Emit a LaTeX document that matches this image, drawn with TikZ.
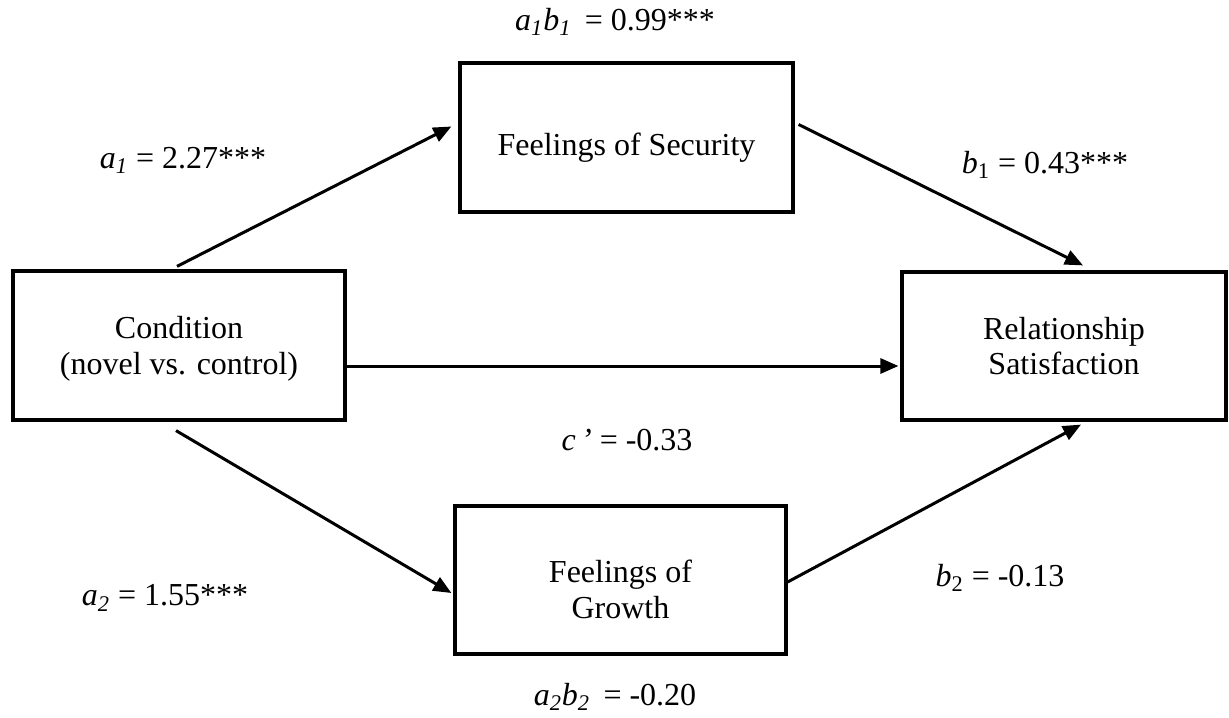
\documentclass[tikz,border=0pt]{standalone}
\usepackage{fontspec}
\setmainfont{Liberation Serif}
\usetikzlibrary{arrows.meta,calc}
\begin{document}
\begin{tikzpicture}[x=0.5pt,y=-0.5pt,
  box/.style={draw,line width=1.6pt,inner sep=0pt,align=center,font=\fontsize{16}{17.8}\selectfont},
  lbl/.style={inner sep=0pt,font=\fontsize{16}{17.8}\selectfont},
  arr/.style={line width=1.5pt,-{Triangle[length=9pt,width=7.5pt]}}]
\useasboundingbox (0,0) rectangle (1229,717);
\node[box,minimum width=166.5pt,minimum height=74.5pt] (sec) at (626.5,137.5) {\rule{0pt}{21pt}Feelings of Security};
\node[box,minimum width=166pt,minimum height=74.5pt] (cond) at (179,345.5) {\rule{0pt}{14.5pt}Condition\\(novel vs. control)};
\node[box,minimum width=162pt,minimum height=74pt] (rel) at (1064,346) {Relationship\\Satisfaction};
\node[box,minimum width=165.5pt,minimum height=74pt] (gro) at (620.5,580) {\rule{0pt}{20.5pt}Feelings of\\Growth};
\node[lbl] (l1) at (615,22) {\textit{a}\textsubscript{\textit{1}}\textit{b}\textsubscript{\textit{1}} \,= 0.99***};
\node[lbl] (l2) at (183,160) {\textit{a}\textsubscript{\textit{1}} = 2.27***};
\node[lbl] (l3) at (1045,165) {\textit{b}\textsubscript{1} = 0.43***};
\node[lbl] (l4) at (627,440) {\textit{c\,’} = -0.33};
\node[lbl] (l5) at (165,598) {\textit{a}\textsubscript{\textit{2}} = 1.55***};
\node[lbl] (l6) at (1000,578) {\textit{b}\textsubscript{2} = -0.13};
\node[lbl] (l7) at (615,697) {\textit{a}\textsubscript{\textit{2}}\textit{b}\textsubscript{\textit{2}} \,= -0.20};
\draw[arr] ($(cond.north)+(-2,-3)$) -- ($(sec.west)+(-7,-11)$);
\draw[arr] ($(sec.east)+(4,-13)$) -- ($(rel.north)+(19,-5)$);
\draw[arr] ($(cond.east)+(0,20.5)$) -- ($(rel.west)+(-2,20)$);
\draw[arr] ($(cond.south)+(-3,9)$) -- ($(gro.west)+(-2,13)$);
\draw[arr] ($(gro.east)+(0,2)$) -- ($(rel.south)+(17,3)$);
\end{tikzpicture}
\end{document}
